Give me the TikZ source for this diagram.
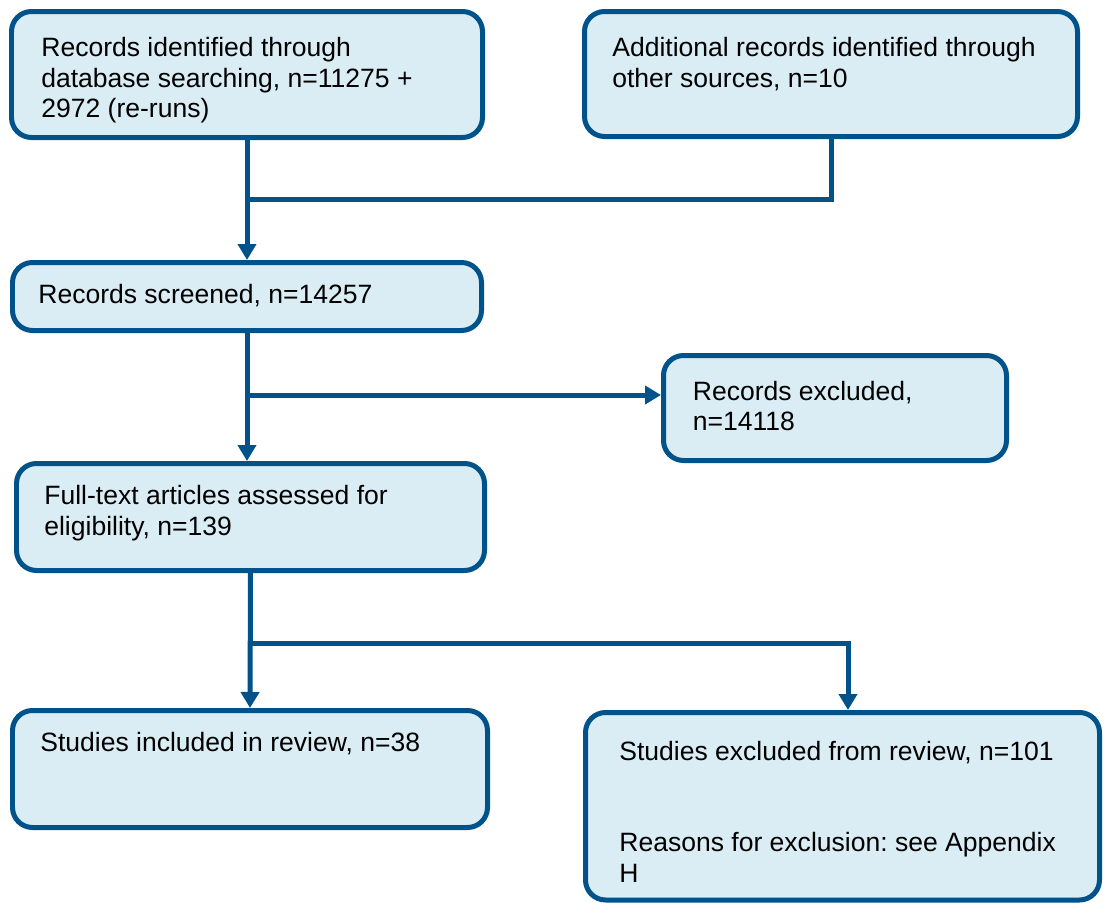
\documentclass[tikz,border=0pt]{standalone}
\usepackage{fontspec}
\setmainfont{Liberation Sans}
\frenchspacing
\usetikzlibrary{arrows.meta,fit}
\definecolor{boxblue}{RGB}{0,83,138}
\definecolor{boxfill}{RGB}{219,237,244}
\tikzset{
  box/.style={draw=boxblue, fill=boxfill, line width=0.1cm, rounded corners=0.4cm, inner sep=0pt},
  txt/.style={anchor=north west, inner sep=0pt, align=left, font=\fontsize{15.1}{17.4}\selectfont},
  conn/.style={draw=boxblue, line width=0.1cm},
  arr/.style={conn, -{Triangle[width=0.36cm,length=0.32cm]}},
}
\begin{document}
\begin{tikzpicture}[x=0.02cm, y=-0.02cm]
\useasboundingbox (0,0) rectangle (1107,903);

% boxes
\node[box, fit={(11.5,11.5) (482.5,137.5)}] (ident) {};
\node[box, fit={(584.5,11.5) (1077.5,136.5)}] (addit) {};
\node[box, fit={(12.5,262.5) (481.5,330.5)}] (screen) {};
\node[box, fit={(663.5,355.5) (1006.5,460.5)}] (recexcl) {};
\node[box, fit={(16.5,463.5) (484.5,570.5)}] (fulltext) {};
\node[box, fit={(12.5,710.5) (487.5,827.5)}] (incl) {};
\node[box, fit={(585.5,712.5) (1099.5,900)}] (studexcl) {};

% texts
\node[txt] (identT) at (41,37) {Records identified through\\database searching, n=11275 +\\2972 (re-runs)};
\node[txt] (additT) at (612,37) {Additional records identified through\\other sources, n=10};
\node[txt] (screenT) at (38,284) {Records screened, n=14257};
\node[txt] (recexclT) at (692.5,380.5) {Records excluded,\\n=14118};
\node[txt] (fulltextT) at (44,485) {Full-text articles assessed for\\eligibility, n=139};
\node[txt] (inclT) at (40,732) {Studies included in review, n=38};
\node[txt] (studexclT) at (619,740.5) {Studies excluded from review, n=101\\[34.8pt]Reasons for exclusion: see Appendix\\H};

% junctions
\coordinate (j1) at (247,199);
\coordinate (j2) at (247,395);
\coordinate (j3) at (250,643);
\coordinate (k3) at (848,643);

% connectors
\draw[arr] (ident.south) -- (screen.north);
\draw[conn] (addit.south) |- (j1);
\draw[arr] (screen.south) -- (screen.south |- fulltext.north);
\draw[arr] (j2) -- (j2 -| recexcl.west);
\draw[arr] (fulltext.south) -- (incl.north);
\draw[arr] (j3) -| (k3 |- studexcl.north);
\end{tikzpicture}
\end{document}
